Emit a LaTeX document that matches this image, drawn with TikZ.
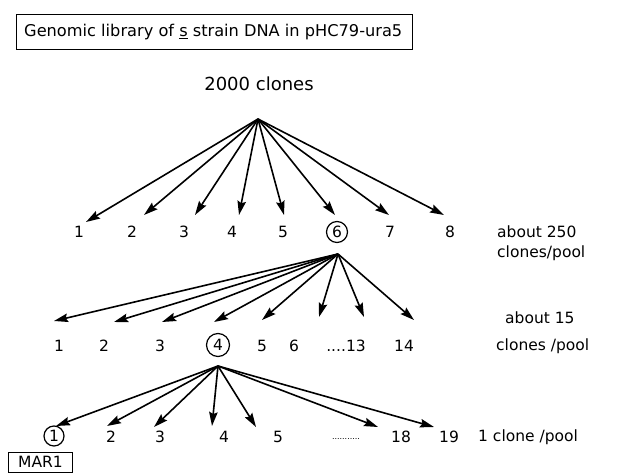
\documentclass[tikz,border=0pt]{standalone}
\usepackage{fontspec}
\setmainfont{DejaVu Sans}
\usetikzlibrary{arrows.meta}
\begin{document}
\begin{tikzpicture}[x=1pt,y=-1pt,
  every node/.style={font=\fontsize{15.5}{18}\selectfont, inner sep=0pt},
  arr/.style={line width=1.6pt, -{Stealth[length=14pt,width=8.5pt,inset=2pt]}},
  circ/.style={circle, draw, line width=1.2pt, minimum size=21pt},
  lbl/.style={anchor=west, align=left}]
\useasboundingbox (0,0) rectangle (621,476);
% title
\node[draw, line width=1pt, minimum width=396pt, minimum height=35pt, anchor=west] (title) at (16,32.5) {};
\node[anchor=west, font=\fontsize{16.2}{19}\selectfont] (ttext) at (24,32.5)
  {Genomic library of \underline{s} strain DNA in pHC79-ura5};
\node[font=\fontsize{18}{21}\selectfont] (top) at (259,84) {2000 clones};
% level 1
\coordinate (a0) at (258,119);
\foreach \n/\x in {1/79,2/132,3/184,4/232,5/283,7/390,8/450}
  \node (a\n) at (\x,232) {\n};
\node[circ] (a6) at (337,232) {6};
\foreach \i/\x/\y in {1/86/222,2/144/215,3/195/215,4/239/215,5/284/215,6/335/215,7/389/215,8/444/215}
  \coordinate (ta\i) at (\x,\y);
\foreach \i in {1,...,8} \draw[arr] (a0) -- (ta\i);
\node[lbl] (la) at (497,232) {about 250};
\node[lbl] (lb) at (497,253) {clones/pool};
% level 2
\coordinate (b0) at (338,254);
\foreach \n/\x in {1/59,2/104,3/160,5/262,6/294,14/404}
  \node (b\n) at (\x,346) {\n};
\node[circ, minimum size=23pt] (b4) at (218,345) {4};
\node (b13) at (346,346) {....13};
\foreach \i/\x/\y in {1/54/321,2/114/322,3/162/322,4/214/322,5/262/320,6/319/317,13/364/317,14/414/320}
  \coordinate (tb\i) at (\x,\y);
\foreach \i in {1,2,3,4,5,6,13,14} \draw[arr] (b0) -- (tb\i);
\node[lbl] (lc) at (505,318) {about 15};
\node[lbl] (ld) at (496,346) {clones /pool};
% level 3
\coordinate (c0) at (218,366);
\node[circ, minimum size=20pt] (c1) at (54,436) {1};
\foreach \n/\x in {2/111,3/160,4/224,5/278,18/401,19/449}
  \node (c\n) at (\x,437) {\n};
\node[font=\fontsize{8}{9}\selectfont] (cdots) at (346,439) {...........};
\foreach \i/\x/\y in {1/56/426,2/107/426,3/154/427,4/212/426,5/256/427,18/378/427,19/434/427}
  \coordinate (tc\i) at (\x,\y);
\foreach \i in {1,2,3,4,5,18,19} \draw[arr] (c0) -- (tc\i);
\node[lbl] (le) at (478,437) {1 clone /pool};
\node[draw, line width=1pt, minimum width=64pt, minimum height=20pt, anchor=west,
  font=\fontsize{15.5}{18}\selectfont] (mar) at (8,462) {MAR1};
\end{tikzpicture}
\end{document}
